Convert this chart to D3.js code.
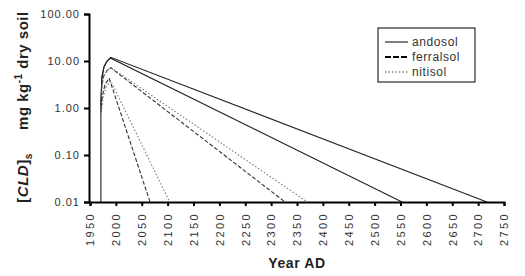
<!DOCTYPE html>
<html><head><meta charset="utf-8">
<script src="https://cdn.jsdelivr.net/npm/d3@7"></script>
<style>
body{margin:0;background:#fff;}
svg{display:block;font-family:"Liberation Sans",Arial,sans-serif;}
</style></head>
<body><svg id="c" width="525" height="276"></svg>
<script>
// ---- data ----
const xTicks = [1950,2000,2050,2100,2150,2200,2250,2300,2350,2400,2450,2500,2550,2600,2650,2700,2750];
const yTicks = [0.01,0.1,1,10,100];
const legendLabels = ["andosol","ferralsol","nitisol"];
// each series: years and concentration values
const andosolAYears = [1971,1971,1973,1977,1983,1990,2717];
const andosolAVals  = [0.01,1.2,4.5,7.5,10,12,0.01];
const andosolBYears = [1971,1973,1977,1983,1990,2553];
const andosolBVals  = [1.2,4.5,7.5,10,11.5,0.01];
const ferralsolAYears = [1971,1973,1977,1983,1990,2327];
const ferralsolAVals  = [1.0,3.2,5,6.3,7.2,0.01];
const nitisolAYears = [1971,1973,1977,1983,1990,2370];
const nitisolAVals  = [0.9,3,4.8,6.2,7.3,0.01];
const ferralsolBYears = [1971,1974,1979,1987,2066];
const ferralsolBVals  = [0.8,1.8,3.2,4.3,0.01];
const nitisolBYears = [1971,1975,1981,1990,2104];
const nitisolBVals  = [0.7,1.6,2.8,3.8,0.01];

const series = [
  {soil:"andosol", years:andosolAYears, vals:andosolAVals},
  {soil:"andosol", years:andosolBYears, vals:andosolBVals},
  {soil:"ferralsol", years:ferralsolAYears, vals:ferralsolAVals},
  {soil:"nitisol", years:nitisolAYears, vals:nitisolAVals},
  {soil:"ferralsol", years:ferralsolBYears, vals:ferralsolBVals},
  {soil:"nitisol", years:nitisolBYears, vals:nitisolBVals}
];
const styles = {
  andosol:{stroke:"#222", width:1.1, dash:null},
  ferralsol:{stroke:"#333", width:1.1, dash:"4,2"},
  nitisol:{stroke:"#777", width:1.1, dash:"1.5,2"}
};

const svg = d3.select("#c");
const x = d3.scaleLinear().domain([1950,2750]).range([90,504]);
const y = d3.scaleLog().domain([0.01,100]).range([202,14]);

// lines
const line = d3.line().x(d=>x(d[0])).y(d=>y(d[1]));
series.forEach(s=>{
  const pts = s.years.map((yr,i)=>[yr,s.vals[i]]);
  const st = styles[s.soil];
  svg.append("path").attr("d",line(pts)).attr("fill","none")
    .attr("stroke",st.stroke).attr("stroke-width",st.width)
    .attr("stroke-dasharray",st.dash);
});

// axes
const yAxis = d3.axisLeft(y).tickValues(yTicks).tickFormat(d3.format(".2f")).tickSize(5).tickPadding(4);
const gy = svg.append("g").attr("transform","translate(89,0)").call(yAxis);
gy.select(".domain").attr("stroke","#000").attr("stroke-width",2);
gy.selectAll(".tick line").attr("stroke","#000").attr("stroke-width",2);
gy.selectAll(".tick text").attr("font-size",11).attr("fill","#333")
  .attr("letter-spacing","1px").attr("font-family","Liberation Sans, Arial, sans-serif");

const xAxis = d3.axisBottom(x).tickValues(xTicks).tickFormat(d3.format("d")).tickSize(4);
const gx = svg.append("g").attr("transform","translate(0,202)").call(xAxis);
gx.select(".domain").attr("stroke","#000").attr("stroke-width",2);
gx.selectAll(".tick line").attr("stroke","#000").attr("stroke-width",2);
gx.selectAll(".tick text").attr("font-size",11).attr("fill","#333")
  .attr("letter-spacing","2.4px").attr("font-family","Liberation Sans, Arial, sans-serif")
  .attr("text-anchor","end").attr("transform","rotate(-90)")
  .attr("x",-10).attr("y",0).attr("dy","0.35em");

// axis titles
svg.append("text").attr("x",297).attr("y",268).attr("text-anchor","middle")
  .attr("font-size",14).attr("letter-spacing","0.6px").attr("font-weight","bold").attr("fill","#222").text("Year AD");

const yt = svg.append("text").attr("transform","translate(28,107) rotate(-90)")
  .attr("text-anchor","middle").attr("font-size",15).attr("font-weight","bold").attr("fill","#222")
  .attr("letter-spacing","0.5px").attr("xml:space","preserve");
yt.append("tspan").text("[");
yt.append("tspan").attr("font-style","italic").text("CLD");
yt.append("tspan").text("]");
yt.append("tspan").attr("font-size",10).attr("dy",4).text("s");
yt.append("tspan").attr("dy",-4).text("\u00a0\u00a0\u00a0\u00a0\u00a0mg kg");
yt.append("tspan").attr("font-size",10).attr("dy",-6).text("-1");
yt.append("tspan").attr("dy",6).text(" dry soil");

// legend
const lg = svg.append("g");
lg.append("rect").attr("x",378).attr("y",28).attr("width",97).attr("height",54)
  .attr("fill","#fff").attr("stroke","#000").attr("stroke-width",1);
legendLabels.forEach((lab,i)=>{
  const yy = 42 + i*15;
  const st = styles[lab];
  lg.append("line").attr("x1",385).attr("x2",408).attr("y1",yy).attr("y2",yy)
    .attr("stroke",lab==="nitisol"?"#444":"#000").attr("stroke-width", lab==="ferralsol"?2:1)
    .attr("stroke-dasharray", lab==="ferralsol"?"6,2":st.dash);
  lg.append("text").attr("x",412).attr("y",yy).attr("dy","0.35em")
    .attr("font-size",12).attr("letter-spacing","0.6px").attr("fill","#333").text(lab);
});
</script></body></html>
